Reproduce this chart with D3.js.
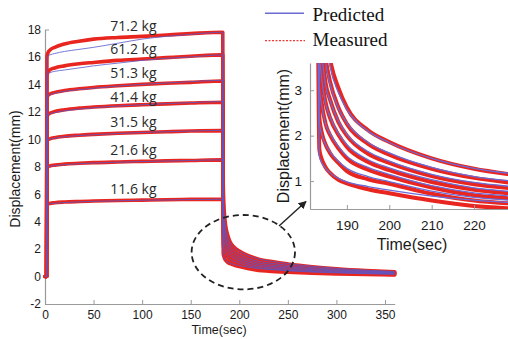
<!DOCTYPE html>
<html>
<head>
<meta charset="utf-8">
<script src="https://cdn.jsdelivr.net/npm/d3@7"></script>
<style>
  html, body { margin: 0; padding: 0; background: #fff; }
  svg { display: block; }
</style>
</head>
<body>
<svg id="chart" width="508" height="339"></svg>
<script>
// ---------------- DATA ----------------
const loads = ["71.2 kg", "61.2 kg", "51.3 kg", "41.4 kg", "31.5 kg", "21.6 kg", "11.6 kg"];

// shared time samples (sec): loading phase then unloading/recovery phase
const timeLoad = [0, 1.6, 2, 3, 5, 10, 20, 35, 50, 75, 100, 125, 150, 183];
const timeUnload = [183.5, 184, 185, 186, 188, 190, 195, 200, 210, 220, 230, 250, 275, 300, 330, 360];

// Predicted displacement (mm) - loading phase
const predLoad = [
  [0, 0, 16.0, 16.08, 16.15, 16.25, 16.4, 16.55, 16.7, 17.0, 17.3, 17.5, 17.65, 17.8],
  [0, 0, 14.6, 14.75, 14.85, 14.95, 15.05, 15.2, 15.35, 15.55, 15.75, 15.9, 16.0, 16.15],
  [0, 0, 13.0, 13.15, 13.25, 13.35, 13.5, 13.62, 13.72, 13.88, 14.0, 14.1, 14.2, 14.3],
  [0, 0, 11.6, 11.75, 11.85, 11.95, 12.07, 12.2, 12.3, 12.42, 12.52, 12.6, 12.67, 12.75],
  [0, 0, 9.85, 9.95, 10.0, 10.08, 10.18, 10.27, 10.33, 10.42, 10.5, 10.55, 10.6, 10.65],
  [0, 0, 7.9, 7.98, 8.03, 8.08, 8.15, 8.22, 8.27, 8.33, 8.38, 8.42, 8.46, 8.5],
  [0, 0, 5.2, 5.26, 5.3, 5.34, 5.39, 5.44, 5.48, 5.52, 5.56, 5.58, 5.61, 5.63]
];
// Measured displacement (mm) - loading phase
const measLoad = [
  [0, 0, 16.0, 16.3, 16.5, 16.7, 16.95, 17.15, 17.3, 17.42, 17.5, 17.6, 17.7, 17.8],
  [0, 0, 14.6, 14.9, 15.05, 15.2, 15.35, 15.5, 15.6, 15.75, 15.85, 15.95, 16.05, 16.15],
  [0, 0, 13.0, 13.2, 13.3, 13.42, 13.55, 13.68, 13.78, 13.9, 14.0, 14.08, 14.15, 14.25],
  [0, 0, 11.6, 11.8, 11.9, 12.02, 12.15, 12.27, 12.35, 12.45, 12.52, 12.58, 12.64, 12.7],
  [0, 0, 9.85, 9.97, 10.03, 10.12, 10.22, 10.3, 10.36, 10.44, 10.5, 10.55, 10.6, 10.63],
  [0, 0, 7.9, 8.0, 8.06, 8.12, 8.19, 8.25, 8.3, 8.35, 8.39, 8.43, 8.46, 8.5],
  [0, 0, 5.2, 5.28, 5.33, 5.38, 5.43, 5.47, 5.5, 5.54, 5.57, 5.6, 5.62, 5.63]
];
// Predicted displacement (mm) - unloading / recovery phase
const predUnload = [
  [6.5, 5.2, 4.2, 3.55, 2.95, 2.58, 2.1, 1.85, 1.5, 1.28, 1.15, 0.95, 0.75, 0.6, 0.47, 0.37],
  [5.5, 4.5, 3.6, 3.15, 2.6, 2.28, 1.85, 1.62, 1.3, 1.1, 0.99, 0.82, 0.65, 0.52, 0.41, 0.33],
  [4.6, 3.9, 3.1, 2.78, 2.32, 2.03, 1.65, 1.44, 1.15, 0.97, 0.87, 0.72, 0.57, 0.46, 0.37, 0.3],
  [3.9, 3.3, 2.7, 2.42, 2.05, 1.8, 1.47, 1.29, 1.03, 0.85, 0.76, 0.63, 0.5, 0.4, 0.32, 0.26],
  [3.1, 2.7, 2.25, 2.05, 1.76, 1.55, 1.3, 1.15, 0.9, 0.74, 0.66, 0.54, 0.43, 0.35, 0.28, 0.23],
  [2.3, 2.05, 1.8, 1.65, 1.43, 1.28, 1.1, 0.99, 0.78, 0.64, 0.57, 0.46, 0.37, 0.3, 0.24, 0.19],
  [1.55, 1.42, 1.28, 1.18, 1.06, 0.98, 0.88, 0.8, 0.67, 0.58, 0.52, 0.42, 0.33, 0.27, 0.21, 0.16]
];
// Measured displacement (mm) - unloading / recovery phase
const measUnload = [
  [6.8, 5.4, 4.35, 3.7, 3.05, 2.62, 2.12, 1.86, 1.5, 1.27, 1.13, 0.92, 0.72, 0.57, 0.44, 0.35],
  [5.7, 4.6, 3.7, 3.2, 2.62, 2.26, 1.82, 1.58, 1.27, 1.07, 0.95, 0.78, 0.6, 0.48, 0.38, 0.3],
  [4.8, 4.0, 3.15, 2.8, 2.3, 2.0, 1.6, 1.4, 1.11, 0.93, 0.83, 0.68, 0.53, 0.43, 0.34, 0.27],
  [4.0, 3.35, 2.72, 2.4, 2.02, 1.75, 1.42, 1.24, 0.98, 0.81, 0.72, 0.59, 0.46, 0.37, 0.29, 0.23],
  [3.2, 2.75, 2.25, 2.02, 1.72, 1.5, 1.25, 1.1, 0.86, 0.69, 0.61, 0.5, 0.39, 0.31, 0.25, 0.2],
  [2.4, 2.1, 1.8, 1.62, 1.4, 1.22, 1.04, 0.94, 0.72, 0.57, 0.5, 0.41, 0.32, 0.26, 0.2, 0.16],
  [1.7, 1.5, 1.3, 1.18, 1.03, 0.95, 0.82, 0.73, 0.57, 0.45, 0.39, 0.31, 0.24, 0.19, 0.15, 0.11]
];

const mainXTicks = [0, 50, 100, 150, 200, 250, 300, 350];
const mainYTicks = [-2, 0, 2, 4, 6, 8, 10, 12, 14, 16, 18];
const insetXTicks = [190, 200, 210, 220];
const insetYTicks = [1, 2, 3];
const legendLabels = ["Predicted", "Measured"];

// ---------------- DRAWING ----------------
const svg = d3.select("#chart");
const RED = "#e8261f", BLUE = "#5858cc", AXIS = "#9a9a9a", TXT = "#1a1a1a";
const T = timeLoad.concat(timeUnload);
const series = (vals) => vals.map((v, i) => [T[i], v]);
const predicted = loads.map((_, k) => series(predLoad[k].concat(predUnload[k])));
const measured = loads.map((_, k) => series(measLoad[k].concat(measUnload[k])));

// main scales
const x = d3.scaleLinear().domain([0, 360]).range([45, 394.7]);
const y = d3.scaleLinear().domain([-2, 18]).range([304, 29.5]);

function styleAxis(g, fs) {
  g.select(".domain").attr("stroke", AXIS).attr("stroke-width", 1.2);
  g.selectAll(".tick line").attr("stroke", AXIS);
  g.selectAll(".tick text").attr("fill", TXT).style("font-family", "'Liberation Sans', Arial, sans-serif").style("font-size", fs + "px");
}

svg.append("g").attr("transform", "translate(0,304)")
  .call(d3.axisBottom(x).tickValues(mainXTicks).tickSizeInner(-4).tickSizeOuter(0).tickPadding(6).tickFormat(d => String(d)))
  .call(g => styleAxis(g, 12));
svg.append("g").attr("transform", "translate(45,0)")
  .call(d3.axisLeft(y).tickValues(mainYTicks).tickSizeInner(-4).tickSizeOuter(0).tickPadding(4).tickFormat(d => String(d)))
  .call(g => styleAxis(g, 12));

const lineMain = d3.line().x(d => x(d[0])).y(d => y(d[1])).curve(d3.curveMonotoneX);
const gMain = svg.append("g");
gMain.selectAll("path.meas").data(measured).join("path")
  .attr("d", lineMain).attr("fill", "none").attr("stroke", RED).attr("stroke-width", 3.6)
  .attr("stroke-linejoin", "round").attr("stroke-linecap", "round");
gMain.selectAll("path.pred").data(predicted).join("path")
  .attr("d", lineMain).attr("fill", "none").attr("stroke", BLUE).attr("stroke-width", 1).attr("opacity", 0.8);

// load labels
const labelAnchor = [18.28, 16.56, 14.85, 13.1, 11.28, 9.22, 6.36];
svg.append("g").selectAll("text").data(loads).join("text")
  .attr("x", x(91)).attr("y", (d, i) => y(labelAnchor[i])).attr("dy", "0.35em")
  .attr("text-anchor", "middle").attr("fill", "#2a2a2a")
  .style("font-family", "'Open Sans', 'Noto Sans', sans-serif").style("font-size", "14px")
  .text(d => d);

// main axis titles
svg.append("text").attr("x", 219).attr("y", 334).attr("text-anchor", "middle").attr("fill", TXT)
  .style("font-family", "'Liberation Sans', Arial, sans-serif").style("font-size", "12.5px").text("Time(sec)");
svg.append("text").attr("transform", "translate(20,169) rotate(-90)").attr("text-anchor", "middle").attr("fill", TXT)
  .style("font-family", "'Liberation Sans', Arial, sans-serif").style("font-size", "14px").text("Displacement(mm)");

// ellipse + arrow annotation
svg.append("ellipse").attr("cx", 243.3).attr("cy", 252.2).attr("rx", 51.7).attr("ry", 37.2)
  .attr("fill", "none").attr("stroke", "#222").attr("stroke-width", 1.8).attr("stroke-dasharray", "6,4");
const defs = svg.append("defs");
defs.append("marker").attr("id", "arr").attr("viewBox", "0 0 10 10").attr("refX", 9).attr("refY", 5)
  .attr("markerWidth", 8).attr("markerHeight", 8).attr("markerUnits", "userSpaceOnUse").attr("orient", "auto")
  .append("path").attr("d", "M0,0 L10,5 L0,10 z").attr("fill", "#222");
svg.append("line").attr("x1", 279).attr("y1", 226).attr("x2", 306).attr("y2", 201.5)
  .attr("stroke", "#222").attr("stroke-width", 1.4).attr("marker-end", "url(#arr)");

// ---------------- INSET ----------------
const xi = d3.scaleLinear().domain([181.3, 228]).range([310, 508]);
const yi = d3.scaleLinear().domain([0.385, 3.6]).range([209, 63]);
defs.append("clipPath").attr("id", "insetClip").append("rect")
  .attr("x", 310).attr("y", 63).attr("width", 198).attr("height", 146);

const lineInset = d3.line().x(d => xi(d[0])).y(d => yi(d[1])).curve(d3.curveMonotoneX);
const gIn = svg.append("g").attr("clip-path", "url(#insetClip)");
gIn.selectAll("path.meas").data(measured).join("path")
  .attr("d", lineInset).attr("fill", "none").attr("stroke", RED).attr("stroke-width", 4)
  .attr("stroke-linejoin", "round");
gIn.selectAll("path.pred").data(predicted).join("path")
  .attr("d", lineInset).attr("fill", "none").attr("stroke", "#6a6ad8").attr("stroke-width", 1.3);

svg.append("g").attr("transform", "translate(0,209)")
  .call(d3.axisBottom(xi).tickValues(insetXTicks).tickSizeInner(-4).tickSizeOuter(0).tickPadding(11).tickFormat(d => String(d)))
  .call(g => styleAxis(g, 13.5));
svg.append("g").attr("transform", "translate(310,0)")
  .call(d3.axisLeft(yi).tickValues(insetYTicks).tickSizeInner(-4).tickSizeOuter(0).tickPadding(8).tickFormat(d => String(d)))
  .call(g => styleAxis(g, 13.5));

svg.append("text").attr("x", 412).attr("y", 250).attr("text-anchor", "middle").attr("fill", TXT)
  .style("font-family", "'Liberation Sans', Arial, sans-serif").style("font-size", "16px").text("Time(sec)");
svg.append("text").attr("transform", "translate(289,136) rotate(-90)").attr("text-anchor", "middle").attr("fill", TXT)
  .style("font-family", "'Liberation Sans', Arial, sans-serif").style("font-size", "16px").text("Displacement(mm)");

// ---------------- LEGEND ----------------
const lg = svg.append("g");
lg.append("line").attr("x1", 265).attr("x2", 304).attr("y1", 13.3).attr("y2", 13.3)
  .attr("stroke", "#6a6ad0").attr("stroke-width", 1.5);
lg.append("line").attr("x1", 265).attr("x2", 305).attr("y1", 40.7).attr("y2", 40.7)
  .attr("stroke", "#f03a3a").attr("stroke-width", 1.3).attr("stroke-dasharray", "2,1.5");
lg.selectAll("text").data(legendLabels).join("text")
  .attr("x", 312.5).attr("y", (d, i) => i === 0 ? 20.5 : 46)
  .attr("fill", "#111").style("font-family", "'Liberation Serif', 'Times New Roman', serif").style("font-size", "19px")
  .text(d => d);
</script>
</body>
</html>
